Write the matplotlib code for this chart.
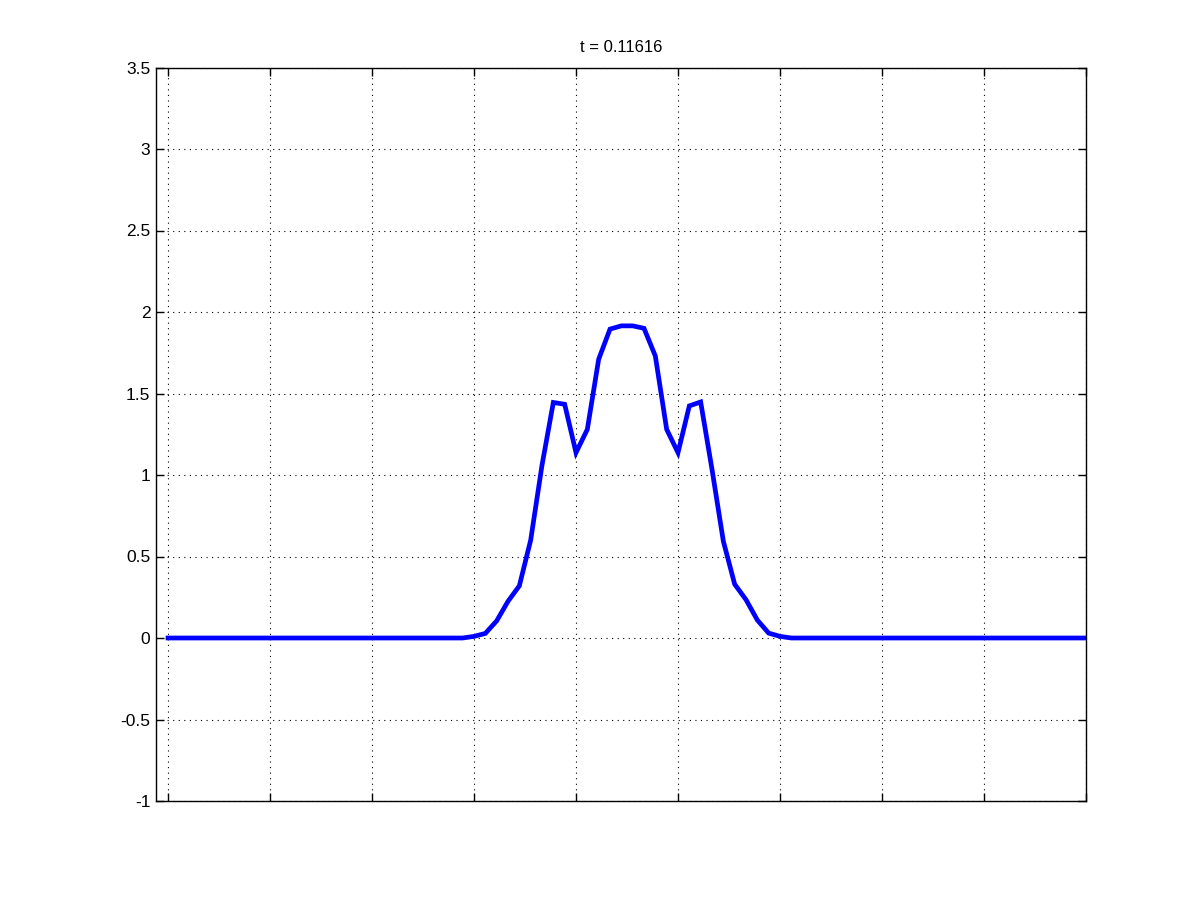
import numpy as np
import matplotlib
matplotlib.use("Agg")
import matplotlib.pyplot as plt

title = "t = 0.11616"

# grid nodes: 82 points spanning the x-ticks 0..9 (9 grid steps per tick)
n_points = 82
x = np.linspace(0, 9, n_points)

# nonzero part of the profile, grid nodes 26..55
bump_start = 26
bump = [0.0, 0.01, 0.028, 0.105, 0.225, 0.32, 0.6, 1.06, 1.445, 1.434,
        1.137, 1.28, 1.71, 1.895, 1.915, 1.915, 1.90, 1.73, 1.28, 1.137,
        1.424, 1.448, 1.035, 0.594, 0.33, 0.235, 0.11, 0.03, 0.01, 0.0]

y = np.zeros(n_points)
y[bump_start:bump_start + len(bump)] = bump

x_ticks = list(range(10))
y_ticks = [-1, -0.5, 0, 0.5, 1, 1.5, 2, 2.5, 3, 3.5]
y_labels = ["-1", "-0.5", "0", "0.5", "1", "1.5", "2", "2.5", "3", "3.5"]

plt.rcParams["font.family"] = ["Liberation Sans", "DejaVu Sans"]

fig = plt.figure(figsize=(12, 9), dpi=100)
ax = fig.add_axes([0.13, 0.11, 0.775, 0.815])

ax.plot(x, y, color="#0000ff", linewidth=3.4, solid_joinstyle="miter")

ax.set_xlim(-12 / 102, 9)
ax.set_ylim(-1, 3.5)
ax.set_xticks(x_ticks)
ax.set_xticklabels([])
ax.set_yticks(y_ticks)
ax.set_yticklabels(y_labels)

ax.grid(True, color="black", linestyle=(0, (1, 4)), linewidth=0.8)
ax.tick_params(direction="in", length=6, width=1.0, top=True, right=True,
               labelsize=12.5, pad=4)
for spine in ax.spines.values():
    spine.set_linewidth(1.0)

ax.set_title(title, fontsize=12, pad=11)

fig.savefig("out.png", dpi=100)
